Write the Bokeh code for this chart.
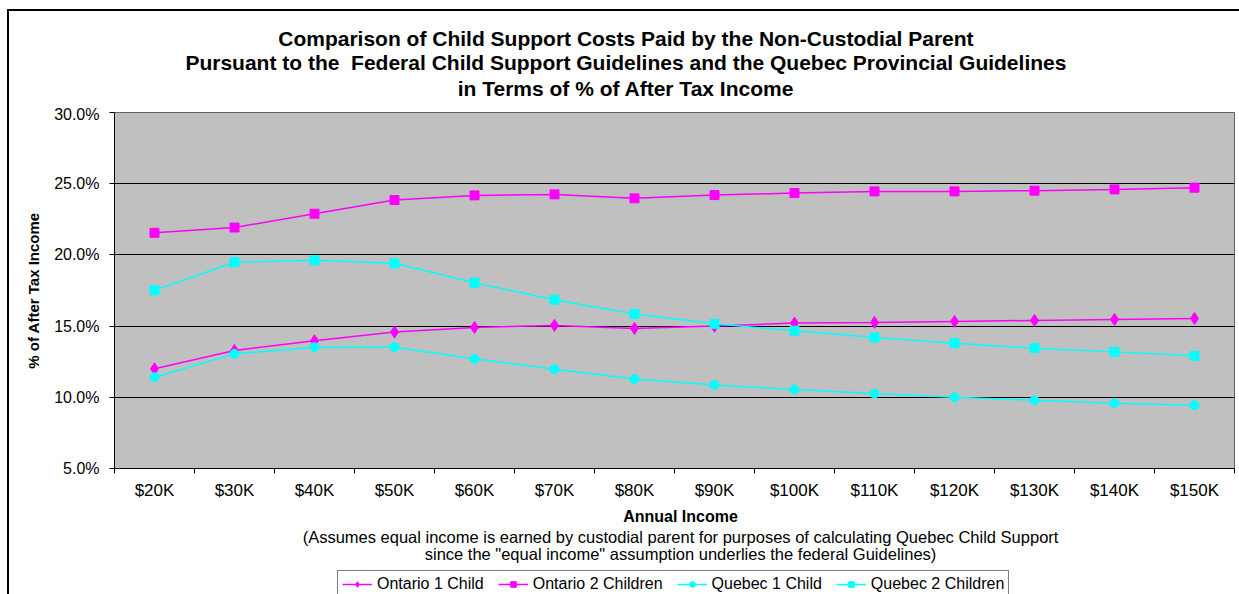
from bokeh.plotting import figure
from bokeh.layouts import column
from bokeh.models import (FixedTicker, PrintfTickFormatter, Legend, LegendItem, Label, Range1d)
from bokeh.embed import file_html
from bokeh.resources import INLINE

incomes = ["$20K", "$30K", "$40K", "$50K", "$60K", "$70K", "$80K", "$90K",
           "$100K", "$110K", "$120K", "$130K", "$140K", "$150K"]
ontario_1 = [12.00, 13.29, 13.97, 14.58, 14.91, 15.05, 14.84, 15.00, 15.21, 15.26, 15.33, 15.40, 15.47, 15.54]
ontario_2 = [21.55, 21.92, 22.89, 23.85, 24.18, 24.25, 23.97, 24.20, 24.34, 24.46, 24.46, 24.51, 24.60, 24.72]
quebec_1 = [11.41, 13.05, 13.52, 13.52, 12.70, 11.97, 11.29, 10.87, 10.54, 10.26, 10.00, 9.79, 9.58, 9.44]
quebec_2 = [17.51, 19.48, 19.62, 19.41, 18.05, 16.85, 15.85, 15.16, 14.67, 14.20, 13.80, 13.45, 13.19, 12.91]
y_ticks = [5, 10, 15, 20, 25, 30]
series_names = ["Ontario 1 Child", "Ontario 2 Children", "Quebec 1 Child", "Quebec 2 Children"]
title_lines = ["Comparison of Child Support Costs Paid by the Non-Custodial Parent",
               "Pursuant to the\u00a0 Federal Child Support Guidelines and the Quebec Provincial Guidelines",
               "in Terms of % of After Tax Income"]
x_title = "Annual Income"
notes = ["(Assumes equal income is earned by custodial parent for purposes of calculating Quebec Child Support",
         "since the \"equal income\" assumption underlies the federal Guidelines)"]

FONT = "Liberation Sans"
MAGENTA = "#FF00FF"
CYAN = "#00FFFF"
W = 1232

idx = list(range(len(incomes)))


def strip(height, top_px, canvas_h, **kw):
    """A blank figure whose data coordinates equal page pixels."""
    f = figure(width=W, height=height, output_backend="svg", toolbar_location=None,
               x_range=Range1d(114, 1232), y_range=Range1d(top_px + canvas_h, top_px),
               x_axis_type=None, y_axis_type=None,
               min_border_left=105, min_border_right=7, min_border_top=0, min_border_bottom=0,
               outline_line_color=None, **kw)
    f.background_fill_color = "white"
    f.border_fill_color = "white"
    f.xgrid.visible = False
    f.ygrid.visible = False
    return f


# ---- title strip ----
p0 = strip(96, 11, 94)
p0.margin = (9, 0, 0, 7)
p0.styles = {"border-left": "2px solid black", "border-top": "2px solid black"}
for t, yy in zip(title_lines, [37, 61, 86]):
    p0.add_layout(Label(x=624.5, y=yy, text=t, text_align="center", text_baseline="middle",
                        text_font=FONT, text_font_size="21px", text_font_style="bold",
                        text_color="black"))

# ---- main chart ----
p = figure(width=W, height=398, output_backend="svg", toolbar_location=None,
           x_range=Range1d(-0.5, len(incomes) - 0.5), y_range=Range1d(5, 30),
           min_border_left=105, min_border_right=7, min_border_top=7, min_border_bottom=35)
p.margin = (0, 0, 0, 7)
p.styles = {"border-left": "2px solid black"}
p.background_fill_color = "#C0C0C0"
p.border_fill_color = "white"
p.outline_line_color = "#606060"
p.outline_line_width = 1

p.xaxis.ticker = FixedTicker(ticks=idx, minor_ticks=[i - 0.5 for i in range(len(incomes) + 1)])
p.xaxis.major_label_overrides = {i: lab for i, lab in enumerate(incomes)}
p.xaxis.major_tick_out = 0
p.xaxis.major_tick_in = 0
p.xaxis.minor_tick_out = 5
p.xaxis.minor_tick_in = 0
p.xaxis.minor_tick_line_color = "black"
p.xaxis.axis_line_color = "black"
p.xaxis.major_label_text_font = FONT
p.xaxis.major_label_text_font_size = "17px"
p.xaxis.major_label_text_color = "black"
p.xaxis.major_label_standoff = 7

p.yaxis.ticker = FixedTicker(ticks=y_ticks, minor_ticks=[])
p.yaxis.formatter = PrintfTickFormatter(format="%.1f%%")
p.yaxis.major_tick_out = 5
p.yaxis.major_tick_in = 0
p.yaxis.major_tick_line_color = "black"
p.yaxis.axis_line_color = "black"
p.yaxis.major_label_text_font = FONT
p.yaxis.major_label_text_font_size = "16px"
p.yaxis.major_label_text_color = "black"
p.yaxis.major_label_standoff = 10
p.yaxis.axis_label = "% of After Tax Income"
p.yaxis.axis_label_text_font = FONT
p.yaxis.axis_label_text_font_size = "15px"
p.yaxis.axis_label_text_font_style = "bold"
p.yaxis.axis_label_text_color = "black"
p.yaxis.axis_label_standoff = 9

p.xgrid.visible = False
p.ygrid.grid_line_color = "black"
p.ygrid.grid_line_width = 1

styles = [(ontario_1, MAGENTA, "diamond", 12), (ontario_2, MAGENTA, "square", 9),
          (quebec_1, CYAN, "circle", 9), (quebec_2, CYAN, "square", 9)]
for vals, col, mk, sz in styles:
    p.line(idx, vals, line_color=col, line_width=1.5)
    p.scatter(idx, vals, marker=mk, size=sz, fill_color=col, line_color=col)

# ---- bottom strip: axis title, notes, legend ----
p2 = strip(93, 503, 93)
p2.margin = (0, 0, 0, 7)
p2.styles = {"border-left": "2px solid black"}
p2.add_layout(Label(x=679, y=516, text=x_title, text_align="center", text_baseline="middle",
                    text_font=FONT, text_font_size="16px", text_font_style="bold",
                    text_color="black"))
for t, yy in zip(notes, [536, 553]):
    p2.add_layout(Label(x=679, y=yy, text=t, text_align="center", text_baseline="middle",
                        text_font=FONT, text_font_size="16.5px", text_color="black"))

items = []
for name, (vals, col, mk, sz) in zip(series_names, styles):
    ln = p2.line([-50, -40], [-50, -40], line_color=col, line_width=1.5)
    sc = p2.scatter([-50], [-50], marker=mk, size=sz - 2, fill_color=col, line_color=col)
    items.append(LegendItem(label=name, renderers=[ln, sc]))
legend = Legend(items=items, orientation="horizontal", location=(223, -2),
                border_line_color="black", border_line_width=1,
                background_fill_color="white", background_fill_alpha=1,
                label_text_font=FONT, label_text_font_size="16px", label_text_color="black",
                glyph_width=30, glyph_height=14, label_height=14,
                padding=4, spacing=14, margin=0, label_standoff=5)
p2.add_layout(legend)

open("out.html", "w").write(file_html(column(p0, p, p2, spacing=0), INLINE))
